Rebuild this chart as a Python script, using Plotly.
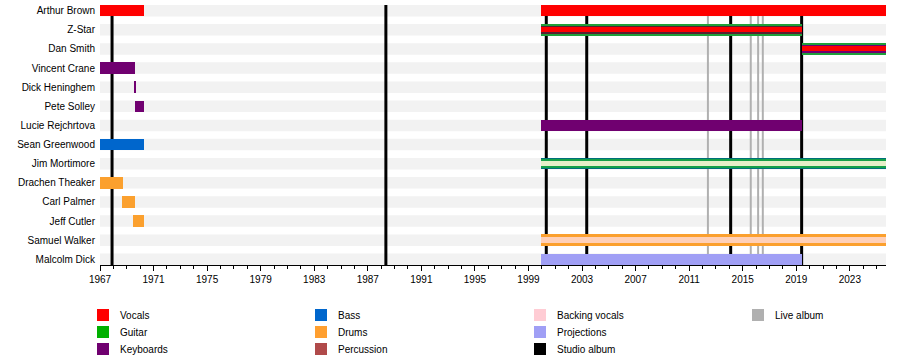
import plotly.graph_objects as go

# ---------------- data ----------------
members = ["Arthur Brown", "Z-Star", "Dan Smith", "Vincent Crane", "Dick Heninghem",
           "Pete Solley", "Lucie Rejchrtova", "Sean Greenwood", "Jim Mortimore",
           "Drachen Theaker", "Carl Palmer", "Jeff Cutler", "Samuel Walker", "Malcolm Dick"]

bar_member = ["Arthur Brown", "Arthur Brown", "Z-Star", "Dan Smith", "Vincent Crane",
              "Dick Heninghem", "Pete Solley", "Lucie Rejchrtova", "Sean Greenwood",
              "Jim Mortimore", "Drachen Theaker", "Carl Palmer", "Jeff Cutler",
              "Samuel Walker", "Malcolm Dick"]
bar_start = [1967.0, 1999.9, 1999.9, 2019.4, 1967.0, 1969.55, 1969.6, 1999.9, 1967.0,
             1999.9, 1967.0, 1968.65, 1969.5, 1999.9, 1999.9]
bar_end = [1970.3, 2025.7, 2019.4, 2025.7, 1969.6, 1969.7, 1970.3, 2019.4, 1970.3,
           2025.7, 1968.7, 1969.6, 1970.3, 2025.7, 2019.4]
bar_roles = [["Vocals"], ["Vocals"], ["Guitar", "Percussion", "Vocals"],
             ["Guitar", "Keyboards", "Vocals"], ["Keyboards"], ["Keyboards"], ["Keyboards"],
             ["Keyboards"], ["Bass"], ["Bass", "Guitar", "Backing vocals"], ["Drums"],
             ["Drums"], ["Drums"], ["Drums", "Backing vocals"], ["Projections"]]

studio_albums = [1967.9, 1988.35, 2000.33, 2003.35, 2014.1, 2019.4]
live_albums = [2012.4, 2015.6, 2016.15, 2016.5]

legend_labels = ["Vocals", "Guitar", "Keyboards", "Bass", "Drums", "Percussion",
                 "Backing vocals", "Projections", "Studio album", "Live album"]
legend_colors = ["#ff0000", "#00b000", "#700070", "#0066cc", "#ff9f2f", "#b04a4a",
                 "#ffccd4", "#a09ff5", "#000000", "#b0b0b0"]

# colours as they appear inside stacked bars
bar_colors = {"Vocals": "#ff0000", "Guitar": "#1fa03a", "Keyboards": "#700070",
              "Bass": "#0066cc", "Drums": "#fba02e", "Percussion": "#5a2030",
              "Backing vocals": "#ffd0b8", "Projections": "#a09ff5"}
stack_override = {"Jim Mortimore": ["#00707a", "#15a048", "#e6efc8"]}

x_start, x_end = 1967.0, 2025.7
row_h = 0.6

# ---------------- figure ----------------
fig = go.Figure()
row_index = {m: i for i, m in enumerate(members)}

stack_widths = {1: [row_h], 2: [row_h, 0.3], 3: [row_h, 0.45, 0.26]}
for m, s, e, roles in zip(bar_member, bar_start, bar_end, bar_roles):
    widths = stack_widths[len(roles)]
    cols = stack_override.get(m, [bar_colors[r] for r in roles])
    for r, w, c in zip(roles, widths, cols):
        fig.add_trace(go.Bar(orientation="h", y=[row_index[m]], base=[s], x=[e - s],
                             width=w, marker=dict(color=c, line=dict(width=0)),
                             name=r, showlegend=False, hoverinfo="skip"))

y_lo, y_hi = -row_h / 2, len(members) - 1 + row_h / 2
shapes = []
# background bands
for i in range(len(members)):
    shapes.append(dict(type="rect", xref="x", yref="y", x0=x_start, x1=x_end,
                       y0=i - row_h / 2, y1=i + row_h / 2, fillcolor="#f2f2f2",
                       line=dict(width=0), layer="below"))
for yr in live_albums:
    shapes.append(dict(type="line", xref="x", yref="y", x0=yr, x1=yr, y0=y_lo, y1=y_hi,
                       line=dict(color="#b0b0b0", width=2), layer="below"))
for yr in studio_albums:
    shapes.append(dict(type="line", xref="x", yref="y", x0=yr, x1=yr, y0=y_lo, y1=y_hi,
                       line=dict(color="#000000", width=3), layer="below"))

# legend (pixel layout converted to paper coords)
L, R, T, B = 100, 886, 5, 265
def px_x(p):
    return (p - L) / (R - L)
def px_y(p):
    return (B - p) / (B - T)

col_x = [97, 315, 534, 752]
row_y = [315, 332, 349]
annotations = []
for k, (lab, col) in enumerate(zip(legend_labels, legend_colors)):
    c, r = divmod(k, 3)
    sx, sy = col_x[c], row_y[r]
    shapes.append(dict(type="rect", xref="paper", yref="paper",
                       x0=px_x(sx), x1=px_x(sx + 12), y0=px_y(sy + 6), y1=px_y(sy - 6),
                       fillcolor=col, line=dict(width=0)))
    annotations.append(dict(xref="paper", yref="paper", x=px_x(sx + 21), y=px_y(sy),
                            text=lab, showarrow=False, xanchor="left", yanchor="middle",
                            font=dict(size=10, color="#000000")))

fig.update_layout(
    width=900, height=360,
    margin=dict(l=L, r=900 - R, t=T, b=360 - B),
    paper_bgcolor="white", plot_bgcolor="white",
    barmode="overlay", bargap=0,
    font=dict(family="Liberation Sans, Arial, sans-serif", size=10, color="#000000"),
    shapes=shapes, annotations=annotations, showlegend=False,
    xaxis=dict(range=[x_start, x_end], tickvals=list(range(1967, 2024, 4)),
               ticks="outside", ticklen=5, tickwidth=1, tickcolor="#000000",
               showline=True, linecolor="#000000", linewidth=1,
               showgrid=False, zeroline=False, tickfont=dict(size=10),
               minor=dict(tick0=1967, dtick=1, ticks="outside", ticklen=3,
                          tickcolor="#000000", showgrid=False)),
    yaxis=dict(range=[y_hi, y_lo],
               tickvals=list(range(len(members))), ticktext=members,
               ticks="", showline=False, showgrid=False, zeroline=False,
               ticklabelstandoff=4, tickfont=dict(size=10)),
)

fig.write_html("out.html", config={"displayModeBar": False},
               post_script="document.body.style.margin='0';")
